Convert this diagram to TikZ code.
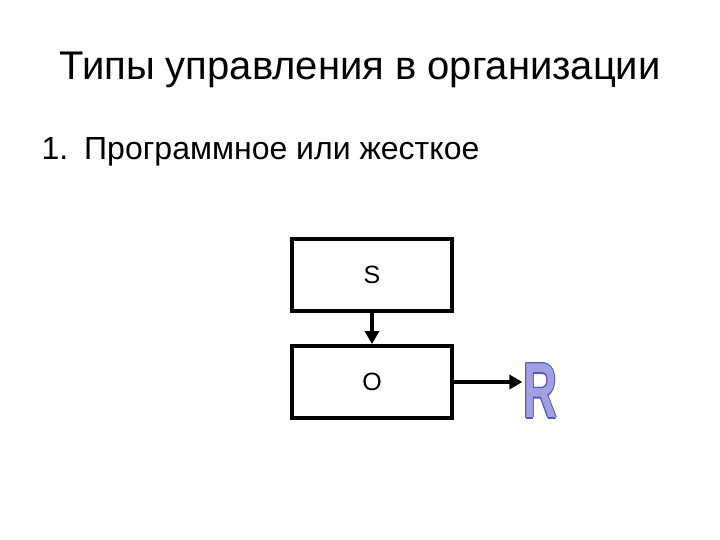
\documentclass[tikz,border=0pt]{standalone}
\usepackage{fontspec}
\setmainfont{Liberation Sans}
\usetikzlibrary{arrows.meta}
\definecolor{rfill}{HTML}{A0A0E0}
\definecolor{redge}{HTML}{5555BB}
% outlined letter: dark copies shifted round, light copy on top
\newcommand{\edgeletter}[1]{%
  \leavevmode\rlap{\color{redge}\kern-1.5pt#1}\rlap{\color{redge}\kern1.5pt#1}%
  \rlap{\color{redge}\raisebox{1.5pt}{#1}}\rlap{\color{redge}\raisebox{-1.5pt}{#1}}%
  \rlap{\color{redge}\kern-1pt\raisebox{1pt}{#1}}\rlap{\color{redge}\kern1pt\raisebox{-1pt}{#1}}%
  \rlap{\color{redge}\kern1pt\raisebox{1pt}{#1}}\rlap{\color{redge}\kern-1pt\raisebox{-1pt}{#1}}%
  {\color{rfill}#1}}
\begin{document}
\begin{tikzpicture}[x=1pt, y=-1pt]
        % Define styles
        \tikzset{block/.style={rectangle, draw, line width=4pt, minimum width=160pt, minimum height=72pt, font=\fontsize{25}{30}\selectfont},
                 link/.style={-{Triangle[length=13pt, width=14pt]}, line width=4pt}}
        \useasboundingbox (0,0) rectangle (720,540);

        % Title and list
        \node (title) at (360,70) {\fontsize{40}{48}\selectfont Типы управления в организации};
        \node[anchor=west] (item) at (38,152) {\fontsize{32}{38}\selectfont 1.\hspace{16pt}Программное или жесткое};

        % Blocks
        \node[block] (s) at (372,274.5) {S};
        \node[block] (o) at (372,382) {O};

        % Result letter
        \node[xscale=0.6, inner sep=1pt] (res) at (540,391) {\fontsize{78}{78}\selectfont\bfseries\edgeletter{R}};

        % Arrows
        \draw[link] (s) -- (o);
        \draw[link] (o.east) -- (res.west |- o.east);
\end{tikzpicture}
\end{document}
